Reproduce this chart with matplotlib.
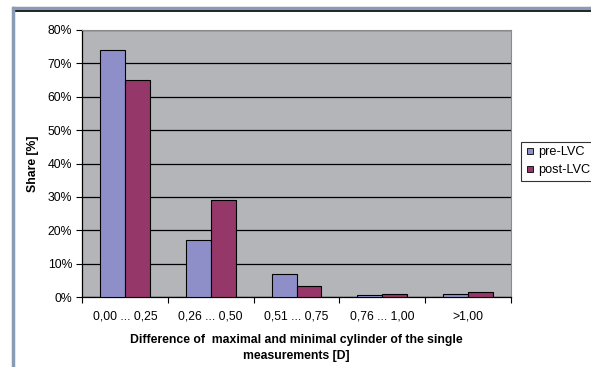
import numpy as np
import matplotlib.pyplot as plt
from matplotlib.lines import Line2D

plt.rcParams["font.family"] = ["Liberation Sans", "DejaVu Sans"]

categories = ["0,00 ... 0,25", "0,26 ... 0,50", "0,51 ... 0,75", "0,76 ... 1,00", ">1,00"]
pre_lvc = [74.0, 17.0, 7.0, 0.5, 1.0]
post_lvc = [65.0, 29.0, 3.3, 1.0, 1.6]

fig = plt.figure(figsize=(5.91, 3.67), dpi=100)
W, H = 591, 367
ax = fig.add_axes([82 / W, 1 - 297 / H, (511 - 82) / W, (297 - 30) / H])

x = np.arange(len(categories))
bw = 0.29
ax.bar(x - bw / 2, pre_lvc, bw, color="#8E8FC8", edgecolor="black", linewidth=0.8,
       label="pre-LVC", zorder=3)
ax.bar(x + bw / 2, post_lvc, bw, color="#963769", edgecolor="black", linewidth=0.8,
       label="post-LVC", zorder=3)

ax.set_facecolor("#B4B5B9")
ax.set_xlim(-0.5, len(categories) - 0.5)
ax.set_ylim(0, 80)
ax.set_yticks(np.arange(0, 81, 10))
ax.set_yticklabels([f"{v}%" for v in range(0, 81, 10)])
ax.yaxis.grid(True, color="black", linewidth=0.9, zorder=1)
ax.set_axisbelow(True)

ax.set_xticks(np.arange(-0.5, len(categories), 1))
ax.set_xticklabels([])
ax.set_xticks(x, minor=True)
ax.set_xticklabels(categories, minor=True)
ax.tick_params(axis="x", which="minor", length=0, pad=10, labelsize=8.8)
ax.tick_params(axis="x", which="major", length=4, width=0.8, direction="out")
ax.tick_params(axis="y", length=4, width=0.8, labelsize=8.8, pad=3)

for side in ["top", "right"]:
    ax.spines[side].set_color("#8A8A8A")
    ax.spines[side].set_linewidth(0.8)
for side in ["left", "bottom"]:
    ax.spines[side].set_color("black")
    ax.spines[side].set_linewidth(0.9)

ax.set_ylabel("Share [%]", fontsize=8.8, fontweight="bold", labelpad=6)
ax.set_xlabel("Difference of  maximal and minimal cylinder of the single\nmeasurements [D]",
              fontsize=8.8, fontweight="bold", labelpad=8, linespacing=1.45)

handles = [
    Line2D([], [], marker="s", linestyle="none", markersize=5, markerfacecolor="#8E8FC8",
           markeredgecolor="black", markeredgewidth=0.6),
    Line2D([], [], marker="s", linestyle="none", markersize=5, markerfacecolor="#963769",
           markeredgecolor="black", markeredgewidth=0.6),
]
leg = fig.legend(handles, ["pre-LVC", "post-LVC"], loc="upper left",
                 bbox_to_anchor=(521 / W, 1 - 142 / H), frameon=True, fancybox=False,
                 fontsize=9.2, handlelength=0.7, handletextpad=0.3, borderpad=0.35,
                 labelspacing=0.45, borderaxespad=0)
leg.get_frame().set_edgecolor("black")
leg.get_frame().set_linewidth(0.8)

# screenshot frame around the chart
fig.add_artist(Line2D([14 / W, 1], [1 - 8 / H, 1 - 8 / H], color="#8A9BB5", linewidth=2.5))
fig.add_artist(Line2D([14 / W, 1], [1 - 10.5 / H, 1 - 10.5 / H], color="black", linewidth=1.2))
fig.add_artist(Line2D([13 / W, 13 / W], [0, 1 - 8 / H], color="#8A9BB5", linewidth=2.5))

fig.savefig("out.png", dpi=100)
